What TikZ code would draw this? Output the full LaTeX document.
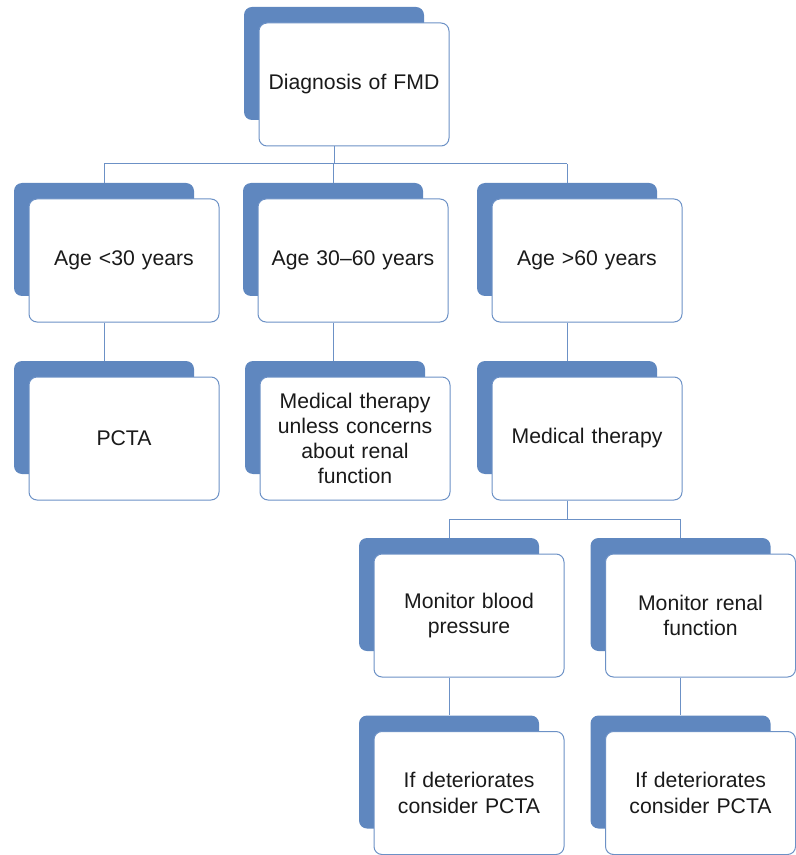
\documentclass[tikz,border=0pt]{standalone}
\usepackage{fontspec}
\setsansfont{Liberation Sans}
\usepackage{tikz}
\usetikzlibrary{calc,positioning}
\definecolor{fmdblue}{HTML}{5F87BF}
\definecolor{fmdline}{HTML}{6C91C6}
\definecolor{fmdink}{HTML}{1A1A1A}
% a card: blue backing plate up-left, white box with the text on top
\newcommand{\card}[3]{%
  \node[cardback] (#1-s) at ($(#2)+(-20,-21)$) {};
  \node[card] (#1) at (#2) {#3};}

\begin{document}
\begin{tikzpicture}[x=0.5pt, y=-0.5pt, font=\sffamily\fontsize{10.6}{12.6}\selectfont,
  card/.style={draw=fmdline, line width=0.5pt, fill=white, rounded corners=4pt, minimum width=95pt, minimum height=61.5pt, text width=86pt, align=center, inner sep=0pt, text=fmdink},
  cardback/.style={fill=fmdblue, rounded corners=4pt, minimum width=90pt, minimum height=56.5pt, inner sep=0pt},
  link/.style={draw=fmdline, line width=0.5pt}]
  \useasboundingbox (0,0) rectangle (796,855);
  % level 0
  \card{top}{354,84.5}{Diagnosis of FMD}
  % age groups
  \card{a1}{124,260.5}{Age <30 years}
  \card{a2}{353,260.5}{Age 30--60 years}
  \card{a3}{587,260.5}{Age >60 years}
  % treatment
  \card{b1}{124,438.5}{PCTA}
  \card{b2}{355,438.5}{Medical therapy\\unless concerns\\about renal\\function}
  \card{b3}{587,438.5}{Medical therapy}
  % follow-up
  \card{c1}{469,615.5}{Monitor blood\\pressure}
  \card{c2}{700.5,615.5}{Monitor renal\\function}
  \card{d1}{469,793}{If deteriorates\\consider PCTA}
  \card{d2}{700.5,793}{If deteriorates\\consider PCTA}
  % connectors
  \coordinate (bus1) at (0,164);
  \coordinate (bus2) at (0,519);
  \draw[link] (top-s |- top.south) -- (top-s |- bus1);
  \draw[link] (a1-s |- bus1) -- (a3-s |- bus1);
  \foreach \n in {a1,a2,a3}
    \draw[link] (\n-s |- bus1) -- (\n-s.north);
  \draw[link] (a1-s |- a1.south) -- (a1-s |- b1-s.north);
  \draw[link] (a2-s |- a2.south) -- (a2-s |- b2-s.north);
  \draw[link] (a3-s |- a3.south) -- (a3-s |- b3-s.north);
  \draw[link] (b3-s |- b3.south) -- (b3-s |- bus2);
  \draw[link] (c1-s |- bus2) -- (c2-s |- bus2);
  \foreach \n in {c1,c2}
    \draw[link] (\n-s |- bus2) -- (\n-s.north);
  \draw[link] (c1-s |- c1.south) -- (d1-s.north);
  \draw[link] (c2-s |- c2.south) -- (d2-s.north);
\end{tikzpicture}
\end{document}
